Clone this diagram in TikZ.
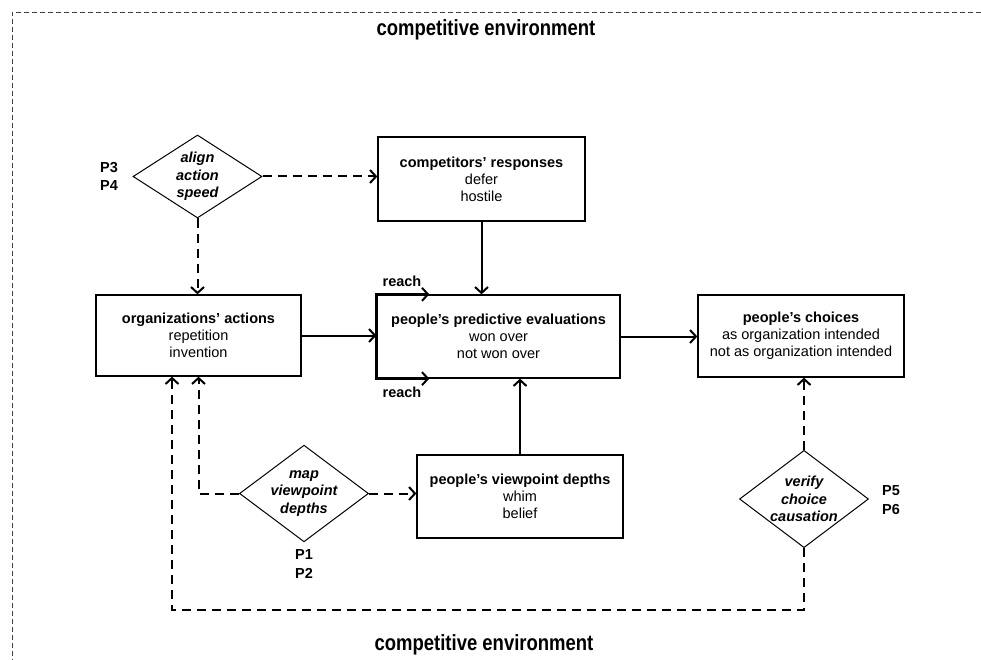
\documentclass[tikz,border=0pt]{standalone}
\usepackage{fontspec}
\setmainfont{Liberation Sans}
\usetikzlibrary{arrows.meta,shapes.geometric,calc}

\begin{document}
\begin{tikzpicture}[x=1pt,y=-1pt,
  font=\fontsize{14.5}{17}\selectfont,
  >={Straight Barb[length=6pt,width=13pt]},
  box/.style={draw,line width=1.3pt,align=center,inner sep=0pt},
  gate/.style={draw,diamond,line width=1pt,align=center,inner sep=-4pt,
    minimum width=129pt,minimum height=83pt,
    font=\fontsize{14.5}{17.5}\selectfont\bfseries\itshape},
  flow/.style={->,line width=2pt},
  guess/.style={->,line width=2pt,dash pattern=on 9pt off 6pt},
  plabel/.style={align=left,font=\fontsize{14.5}{18.5}\selectfont\bfseries},
  envlabel/.style={font=\fontsize{22}{24}\selectfont\bfseries}]
\useasboundingbox (0,0) rectangle (981,660);

% surrounding environment
\draw[line width=0.9pt,black!75,dash pattern=on 5pt off 3pt] (981,12) -- (12,12) -- (12,660);
\node[envlabel] (envtop) at (486,30) {\scalebox{0.84}[1]{competitive environment}};
\node[envlabel] (envbot) at (484,645) {\scalebox{0.84}[1]{competitive environment}};

% boxes
\node[box,minimum width=207pt,minimum height=84pt] (competitors) at (481.5,179)
  {{\bfseries competitors’ responses}\\defer\\hostile};
\node[box,minimum width=205pt,minimum height=81pt] (actions) at (198.5,335.5)
  {{\bfseries organizations’ actions}\\repetition\\invention};
\node[box,minimum width=243pt,minimum height=83pt] (evaluations) at (498.5,336.5)
  {{\bfseries people’s predictive evaluations}\\won over\\not won over};
\node[box,minimum width=206pt,minimum height=82pt] (choices) at (801,336)
  {{\bfseries people’s choices}\\as organization intended\\not as organization intended};
\node[box,minimum width=206pt,minimum height=83pt] (depths) at (520,496.5)
  {{\bfseries people’s viewpoint depths}\\whim\\belief};

% decisions
\node[gate] (align) at (197.5,176.5) {align\\action\\speed};
\node[gate] (map) at (304,493.5) {map\\viewpoint\\depths};
\node[gate] (verify) at (804,499) {verify\\choice\\causation};

\node[plabel] (p34) at (109,176.5) {P3\\P4};
\node[plabel] (p12) at (304,564) {P1\\P2};
\node[plabel] (p56) at (891,500) {P5\\P6};

% solid links
\draw[flow] (competitors.south) -- (competitors.south |- evaluations.north);
\draw[flow] (actions.east) -- (actions.east -| evaluations.west);
\draw[flow] (evaluations.east) -- (evaluations.east -| choices.west);
\draw[flow] (depths.north) -- (depths.north |- evaluations.south);

% reach
\coordinate (reachtop) at ($(evaluations.north west)+(53,0)$);
\coordinate (reachbot) at ($(evaluations.south west)+(53,0)$);
\draw[flow,<->] (reachtop) -- (evaluations.north west) -- (evaluations.south west) -- (reachbot);
\node[font=\fontsize{14.5}{17}\selectfont\bfseries] (reachA) at (402,281) {reach};
\node[font=\fontsize{14.5}{17}\selectfont\bfseries] (reachB) at (402,392) {reach};

% dashed links
\draw[guess] (align.east) -- (align.east -| competitors.west);
\draw[guess] (align.south) -- (align.south |- actions.north);
\draw[guess] (map.east) -- (map.east -| depths.west);
\draw[guess] (map.west) -| (actions.south);
\draw[guess] (verify.north) -- (verify.north |- choices.south);
\coordinate (loop) at (172,610);
\draw[guess] (verify.south) |- (loop) -- (loop |- actions.south);
\end{tikzpicture}
\end{document}
